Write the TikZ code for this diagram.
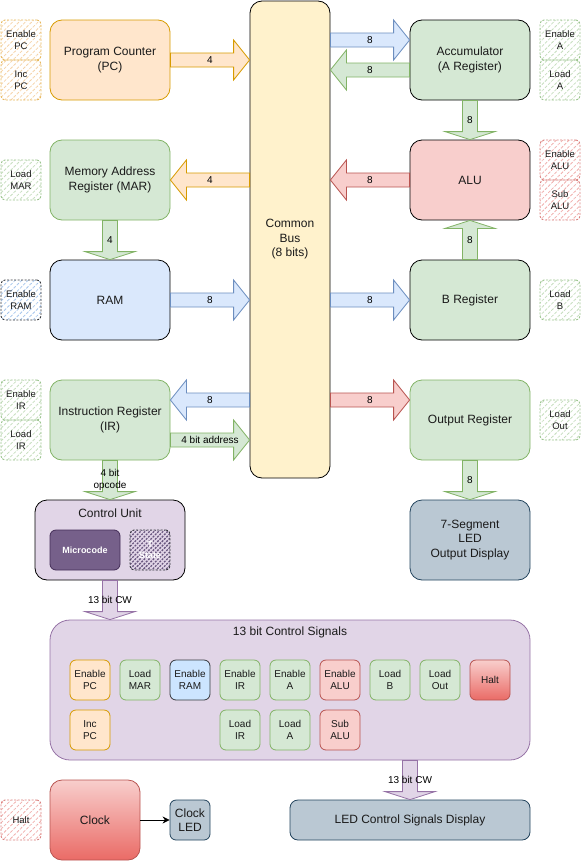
\documentclass[tikz,border=0pt]{standalone}
\usepackage{fontspec}
\setmainfont{Liberation Sans}
\usetikzlibrary{calc,patterns.meta,arrows.meta}
\definecolor{orangeF}{HTML}{FFE6CC}\definecolor{orangeD}{HTML}{D79B00}
\definecolor{greenF}{HTML}{D5E8D4}\definecolor{greenD}{HTML}{82B366}
\definecolor{blueF}{HTML}{DAE8FC}\definecolor{blueD}{HTML}{6C8EBF}
\definecolor{redF}{HTML}{F8CECC}\definecolor{redD}{HTML}{B85450}\definecolor{redG}{HTML}{EA6B66}
\definecolor{purpleF}{HTML}{E1D5E7}\definecolor{purpleD}{HTML}{9673A6}
\definecolor{yellowF}{HTML}{FFF2CC}
\definecolor{slateF}{HTML}{BAC8D3}\definecolor{slateD}{HTML}{23445D}
\definecolor{microF}{HTML}{76608A}\definecolor{microD}{HTML}{432D57}
\definecolor{ramsigF}{HTML}{CCE5FF}\definecolor{ramsigD}{HTML}{36393D}
\definecolor{txt}{HTML}{1A1A1A}
\definecolor{hOrD}{HTML}{E6B85C}\definecolor{hOrL}{HTML}{F5D2A6}
\definecolor{hGrD}{HTML}{9CC48F}\definecolor{hGrL}{HTML}{C4DDBC}
\definecolor{hRdD}{HTML}{D98380}\definecolor{hRdL}{HTML}{F0ADAB}
\definecolor{hBlD}{HTML}{36393D}\definecolor{hBlL}{HTML}{A3C4EC}
\definecolor{hPuL}{HTML}{6A5880}
\tikzset{
  base/.style={rectangle, rounded corners=12pt, line width=0.8pt, inner sep=0pt, align=center,
    font=\fontsize{12}{14.5}\selectfont, text=txt},
  bigbox/.style={base, minimum width=120pt, minimum height=80pt},
  sig/.style={base, rounded corners=6pt, minimum width=40pt, minimum height=40pt,
    font=\fontsize{10}{12}\selectfont},
  hatchbox/.style={rectangle, rounded corners=4pt, minimum width=40pt, minimum height=40pt, inner sep=0pt,
    align=center, font=\fontsize{9.5}{11.7}\selectfont, text=txt,
    line width=0.9pt, dash pattern=on 2pt off 1.5pt,
    pattern={Lines[angle=45,distance=4.5pt,line width=0.8pt]}},
  hOr/.style={hatchbox, draw=hOrD, pattern color=hOrL},
  hGr/.style={hatchbox, draw=hGrD, pattern color=hGrL},
  hRd/.style={hatchbox, draw=hRdD, pattern color=hRdL},
  hBl/.style={hatchbox, draw=hBlD, pattern color=hBlL},
  arrlbl/.style={font=\fontsize{10}{12.3}\selectfont, align=center, inner sep=0pt, text=black},
  aOr/.style={fill=orangeF, draw=orangeD, line width=0.8pt},
  aGr/.style={fill=greenF, draw=greenD, line width=0.8pt},
  aBl/.style={fill=blueF, draw=blueD, line width=0.8pt},
  aRd/.style={fill=redF, draw=redD, line width=0.8pt},
  aPu/.style={fill=purpleF, draw=purpleD, line width=0.8pt},
}
% horizontal block arrow: style, from, to, label
\newcommand\blockh[4]{%
  \path[#1] let \p1=#2, \p2=#3, \p3=($#3!16pt!#2$) in
    ({\x1},{\y1+7pt}) -- ({\x3},{\y1+7pt}) -- ({\x3},{\y1+20pt}) -- ({\x2},{\y1})
    -- ({\x3},{\y1-20pt}) -- ({\x3},{\y1-7pt}) -- ({\x1},{\y1-7pt}) -- cycle;
  \path let \p1=#2, \p2=#3 in ({(\x1+\x2)/2},{\y1}) node[arrlbl] {#4};
}
% vertical block arrow: style, from, to, label
\newcommand\blockv[4]{%
  \path[#1] let \p1=#2, \p2=#3, \p3=($#3!8pt!#2$) in
    ({\x1+7.5pt},{\y1}) -- ({\x1+7.5pt},{\y3}) -- ({\x1+25pt},{\y3}) -- ({\x1},{\y2})
    -- ({\x1-25pt},{\y3}) -- ({\x1-7.5pt},{\y3}) -- ({\x1-7.5pt},{\y1}) -- cycle;
  \path let \p1=#2, \p2=#3 in ({\x1},{(\y1+\y2)/2}) node[arrlbl] {#4};
}
\begin{document}
\begin{tikzpicture}[x=1pt,y=-1pt]
\useasboundingbox (0,0) rectangle (582,862);

% ---- main boxes
\node[base, minimum width=80pt, minimum height=477pt, fill=yellowF, draw=black] (bus) at (290,239.5) {Common\\Bus\\(8 bits)};
\node[bigbox, fill=orangeF, draw=orangeD] (pc) at (110,60) {Program Counter\\(PC)};
\node[bigbox, fill=greenF, draw=greenD] (mar) at (110,180) {Memory Address\\Register (MAR)};
\node[bigbox, fill=blueF, draw=black] (ram) at (110,300) {RAM};
\node[bigbox, fill=greenF, draw=greenD] (ir) at (110,420) {Instruction Register\\(IR)};
\node[bigbox, fill=greenF, draw=black] (acc) at (470,60) {Accumulator\\(A Register)};
\node[bigbox, fill=redF, draw=black] (alu) at (470,180) {ALU};
\node[bigbox, fill=greenF, draw=black] (breg) at (470,300) {B Register};
\node[bigbox, fill=greenF, draw=greenD] (outreg) at (470,420) {Output Register};
\node[bigbox, fill=slateF, draw=slateD] (seg) at (470,540) {7-Segment\\LED\\Output Display};

% ---- control unit
\node[base, minimum width=150pt, minimum height=80pt, fill=purpleF, draw=black] (cu) at (110,540) {};
\node[base] (cutitle) at ($(cu.north)+(0,14)$) {Control Unit};
\node[base, rounded corners=6pt, minimum width=70pt, minimum height=40pt, fill=microF, draw=microD,
  text=white, font=\bfseries\fontsize{9}{11}\selectfont] (micro) at (85,550) {Microcode};
\node[hatchbox, draw=ramsigD, pattern color=hPuL, text=white, font=\bfseries\fontsize{9}{11}\selectfont,
  pattern={Lines[angle=45,distance=3.2pt,line width=1.3pt]}] (tst) at (150,550) {T\\State};

% ---- side hatched signal boxes
\node[hOr] (lenpc) at (21,40) {Enable\\PC};
\node[hOr] (lincpc) at (21,80) {Inc\\PC};
\node[hGr] (lldmar) at (21,180) {Load\\MAR};
\node[hBl] (lenram) at (21,300) {Enable\\RAM};
\node[hGr] (lenir) at (21,400) {Enable\\IR};
\node[hGr] (lldir) at (21,440) {Load\\IR};
\node[hGr] (rena) at (560,40) {Enable\\A};
\node[hGr] (rlda) at (560,80) {Load\\A};
\node[hRd] (renalu) at (560,160) {Enable\\ALU};
\node[hRd] (rsubalu) at (560,200) {Sub\\ALU};
\node[hGr] (rldb) at (560,300) {Load\\B};
\node[hGr] (rldout) at (560,420) {Load\\Out};
\node[hRd] (lhalt) at (21,820) {Halt};

% ---- control signals
\node[base, rounded corners=20pt, minimum width=480pt, minimum height=140pt, fill=purpleF, draw=purpleD] (sigs) at (290,690) {};
\node[base] (sigtitle) at ($(sigs.north)+(0,13)$) {13 bit Control Signals};
\node[sig, fill=orangeF, draw=orangeD] (s1) at (90,680) {Enable\\PC};
\node[sig, fill=greenF, draw=greenD] (s2) at (140,680) {Load\\MAR};
\node[sig, fill=ramsigF, draw=ramsigD] (s3) at (190,680) {Enable\\RAM};
\node[sig, fill=greenF, draw=greenD] (s4) at (240,680) {Enable\\IR};
\node[sig, fill=greenF, draw=greenD] (s5) at (290,680) {Enable\\A};
\node[sig, fill=redF, draw=redD] (s6) at (340,680) {Enable\\ALU};
\node[sig, fill=greenF, draw=greenD] (s7) at (390,680) {Load\\B};
\node[sig, fill=greenF, draw=greenD] (s8) at (440,680) {Load\\Out};
\node[sig, top color=redF, bottom color=redG, draw=redD] (s9) at (490,680) {Halt};
\node[sig, fill=orangeF, draw=orangeD] (s10) at (90,730) {Inc\\PC};
\node[sig, fill=greenF, draw=greenD] (s11) at (240,730) {Load\\IR};
\node[sig, fill=greenF, draw=greenD] (s12) at (290,730) {Load\\A};
\node[sig, fill=redF, draw=redD] (s13) at (340,730) {Sub\\ALU};

% ---- bottom row
\node[base, minimum width=90pt, minimum height=80pt, top color=redF, bottom color=redG, draw=redD] (clock) at (95,820) {Clock};
\node[base, rounded corners=6pt, minimum width=40pt, minimum height=40pt, fill=slateF, draw=slateD] (cled) at (190,820) {Clock\\LED};
\node[base, rounded corners=8pt, minimum width=240pt, minimum height=40pt, fill=slateF, draw=slateD] (led) at (410,820) {LED Control Signals Display};

% ---- helper coordinates
\coordinate (a2bus) at ($(acc.west)+(0,10)$);
\coordinate (bus2out) at ($(outreg.west)+(0,-20)$);

% ---- block arrows
\blockh{aOr}{(pc.east)}{(bus.west |- pc.east)}{4}
\blockh{aOr}{(bus.west |- mar.east)}{(mar.east)}{4}
\blockv{aGr}{(mar.south)}{(ram.north)}{4}
\blockh{aBl}{(ram.east)}{(bus.west |- ram.east)}{8}
\blockh{aBl}{(bus.west |- lenir)}{(ir.east |- lenir)}{8}
\blockh{aGr}{(ir.east |- lldir)}{(bus.west |- lldir)}{4 bit address}
\blockv{aGr}{(ir.south)}{(cu.north)}{4 bit\\opcode}
\blockv{aPu}{(cu.south)}{(sigs.north -| cu.south)}{13 bit CW}
\blockv{aPu}{(sigs.south -| led.north)}{(led.north)}{13 bit CW}
\blockh{aBl}{(bus.east |- rena)}{(acc.west |- rena)}{8}
\blockh{aGr}{(a2bus)}{(bus.east |- a2bus)}{8}
\blockv{aGr}{(acc.south)}{(alu.north)}{8}
\blockh{aRd}{(alu.west)}{(bus.east |- alu.west)}{8}
\blockv{aGr}{(breg.north)}{(alu.south)}{8}
\blockh{aBl}{(bus.east |- breg.west)}{(breg.west)}{8}
\blockh{aRd}{(bus.east |- bus2out)}{(bus2out)}{8}
\blockv{aGr}{(outreg.south)}{(seg.north)}{8}

% ---- clock arrow
\draw[-{Stealth[length=7pt,width=7pt]}, line width=0.8pt, black] (clock) -- (cled);
\end{tikzpicture}
\end{document}
